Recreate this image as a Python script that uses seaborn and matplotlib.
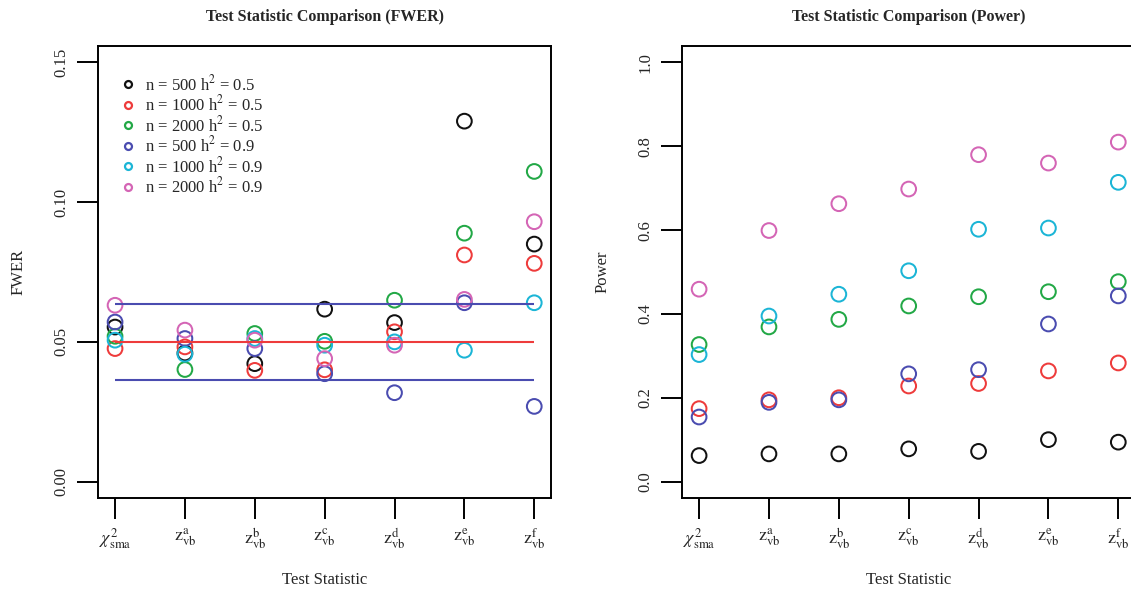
import matplotlib
matplotlib.use("Agg")
import matplotlib.pyplot as plt
from matplotlib.lines import Line2D
import pandas as pd
import seaborn as sns

# categories (test statistics) and series labels
categories = [r"$\chi^{2}_{\mathrm{sma}}$", r"$\mathrm{z}^{\mathrm{a}}_{\mathrm{vb}}$",
              r"$\mathrm{z}^{\mathrm{b}}_{\mathrm{vb}}$", r"$\mathrm{z}^{\mathrm{c}}_{\mathrm{vb}}$",
              r"$\mathrm{z}^{\mathrm{d}}_{\mathrm{vb}}$", r"$\mathrm{z}^{\mathrm{e}}_{\mathrm{vb}}$",
              r"$\mathrm{z}^{\mathrm{f}}_{\mathrm{vb}}$"]
series = ["n = 500 h$^2$ = 0.5", "n = 1000 h$^2$ = 0.5", "n = 2000 h$^2$ = 0.5",
          "n = 500 h$^2$ = 0.9", "n = 1000 h$^2$ = 0.9", "n = 2000 h$^2$ = 0.9"]
colors = ["#111111", "#EE3B3B", "#22A846", "#4A4CB0", "#1BB5D6", "#D465B5"]

# FWER values per series
fwer_n500_h05 = [0.0553, 0.0460, 0.0422, 0.0617, 0.0569, 0.1290, 0.0850]
fwer_n1000_h05 = [0.0476, 0.0482, 0.0398, 0.0400, 0.0536, 0.0811, 0.0781]
fwer_n2000_h05 = [0.0520, 0.0401, 0.0530, 0.0502, 0.0649, 0.0889, 0.1110]
fwer_n500_h09 = [0.0571, 0.0512, 0.0476, 0.0386, 0.0318, 0.0640, 0.0269]
fwer_n1000_h09 = [0.0506, 0.0456, 0.0512, 0.0488, 0.0500, 0.0470, 0.0640]
fwer_n2000_h09 = [0.0631, 0.0542, 0.0506, 0.0440, 0.0488, 0.0652, 0.0930]

# Power values per series
power_n500_h05 = [0.062, 0.066, 0.066, 0.078, 0.072, 0.100, 0.094]
power_n1000_h05 = [0.174, 0.195, 0.200, 0.228, 0.234, 0.264, 0.283]
power_n2000_h05 = [0.327, 0.369, 0.387, 0.419, 0.441, 0.453, 0.477]
power_n500_h09 = [0.154, 0.189, 0.195, 0.257, 0.267, 0.376, 0.443]
power_n1000_h09 = [0.303, 0.395, 0.447, 0.503, 0.602, 0.605, 0.714]
power_n2000_h09 = [0.459, 0.599, 0.663, 0.698, 0.780, 0.760, 0.810]

# reference lines on the FWER panel (nominal level and its bounds)
fwer_ref_lines = [0.0635, 0.05, 0.0365]
fwer_ref_colors = ["#4A4CB0", "#EE3B3B", "#4A4CB0"]

fwer_ticks = [0.00, 0.05, 0.10, 0.15]
fwer_ticklabels = ["0.00", "0.05", "0.10", "0.15"]
power_ticks = [0.0, 0.2, 0.4, 0.6, 0.8, 1.0]
power_ticklabels = ["0.0", "0.2", "0.4", "0.6", "0.8", "1.0"]


def long_frame(columns):
    rows = []
    for name, vals in zip(series, columns):
        for cat, v in zip(categories, vals):
            rows.append({"stat": cat, "value": v, "series": name})
    return pd.DataFrame(rows)


fwer_df = long_frame([fwer_n500_h05, fwer_n1000_h05, fwer_n2000_h05,
                      fwer_n500_h09, fwer_n1000_h09, fwer_n2000_h09])
power_df = long_frame([power_n500_h05, power_n1000_h05, power_n2000_h05,
                       power_n500_h09, power_n1000_h09, power_n2000_h09])

sns.set_style("ticks")
plt.rcParams["font.family"] = ["Liberation Serif", "DejaVu Serif"]
plt.rcParams["mathtext.fontset"] = "stix"

fig = plt.figure(figsize=(11.31, 5.9), dpi=100)
ax1 = fig.add_axes([0.0869, 0.1554, 0.4003, 0.7671])
ax2 = fig.add_axes([0.6033, 0.1554, 0.4003, 0.7671])


def draw_panel(ax, df, ylim, ticks, ticklabels, ylabel, title):
    sns.scatterplot(data=df, x="stat", y="value", hue="series", hue_order=series,
                    palette=colors, marker="o", s=112, linewidth=1.45,
                    legend=False, ax=ax)
    # hollow circles like R's pch = 1
    pts = ax.collections[-1]
    pts.set_edgecolors(pts.get_facecolors())
    pts.set_facecolors("none")
    ax.set_xlim(-0.24, len(categories) - 1 + 0.24)
    ax.set_ylim(*ylim)
    ax.set_yticks(ticks)
    ax.set_yticklabels(ticklabels)
    ax.tick_params(direction="out", length=15, width=1.4, labelsize=12,
                   color="black", bottom=True, left=True)
    ax.tick_params(axis="y", labelrotation=90, pad=6)
    ax.tick_params(axis="x", pad=5, labelsize=13)
    for lab in ax.get_yticklabels():
        lab.set_va("center")
    for sp in ax.spines.values():
        sp.set_visible(True)
        sp.set_linewidth(1.4)
        sp.set_color("black")
    ax.set_xlabel("Test Statistic", fontsize=12)
    ax.set_ylabel(ylabel, fontsize=12)
    ax.xaxis.set_label_coords(0.5, -0.163)
    ax.yaxis.set_label_coords(-0.158, 0.5)
    ax.set_title(title, fontsize=11.5, fontweight="bold", pad=18)


draw_panel(ax1, fwer_df, (-0.006, 0.156), fwer_ticks, fwer_ticklabels, "FWER",
           "Test Statistic Comparison (FWER)")
draw_panel(ax2, power_df, (-0.04, 1.04), power_ticks, power_ticklabels, "Power",
           "Test Statistic Comparison (Power)")

for yv, c in zip(fwer_ref_lines, fwer_ref_colors):
    ax1.hlines(yv, 0, len(categories) - 1, color=c, linewidth=1.5, zorder=1)

handles = [Line2D([], [], marker="o", linestyle="", markerfacecolor="none",
                  markeredgecolor=c, markersize=5, markeredgewidth=1.6) for c in colors]
ax1.legend(handles, series, loc="upper left", bbox_to_anchor=(0.036, 0.952),
           frameon=False, fontsize=12, handlelength=0.8, handletextpad=0.6,
           labelspacing=0.03, borderaxespad=0)

fig.savefig("out.png", dpi=100)
